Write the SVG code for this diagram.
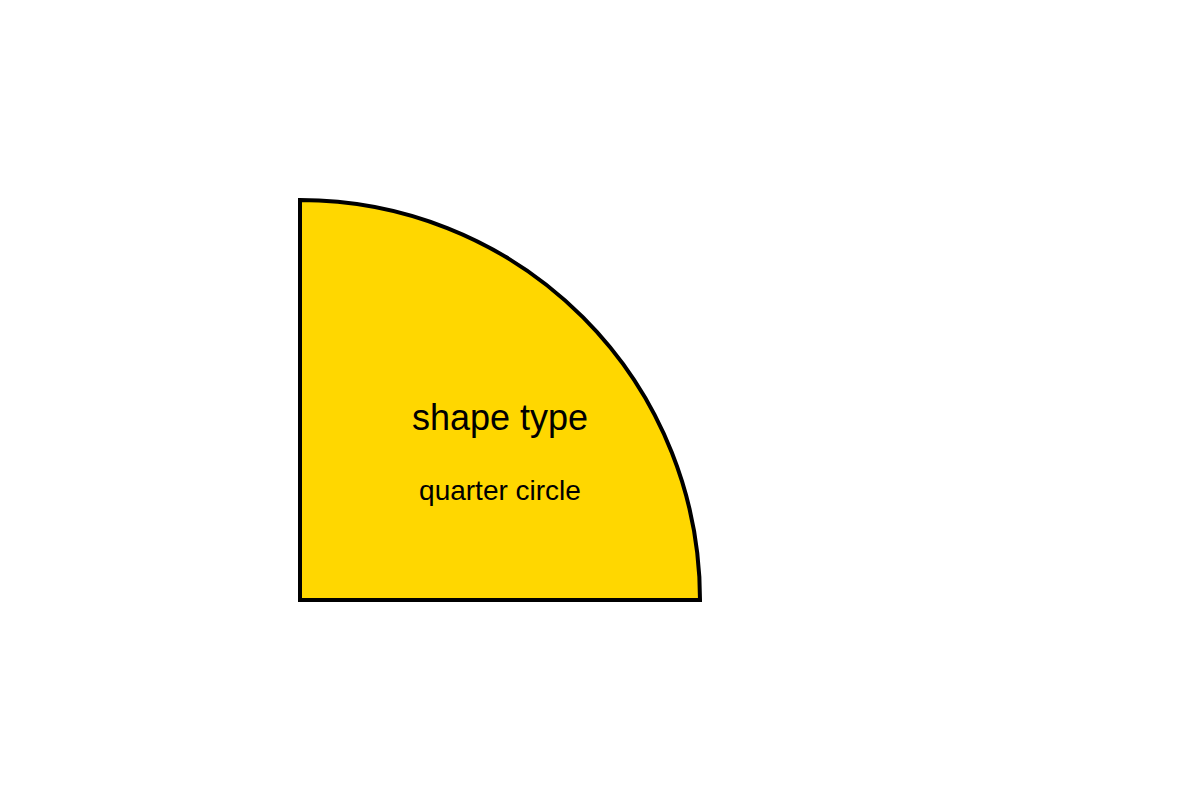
<svg xmlns="http://www.w3.org/2000/svg" width="1200" height="800" viewBox="0 0 1200 800">
<style>
.shape{fill:#FFD700;stroke:#000;stroke-width:4}
.t{font-family:"Liberation Sans",Arial,sans-serif;fill:#000;text-anchor:middle}
</style>
<rect width="1200" height="800" fill="#fff"/>
<g id="quarter-circle">
<path class="shape" d="M300,200 A400,400 0 0 1 700,600 L300,600 Z"/>
<text class="t" x="500" y="430" font-size="36">shape type</text>
<text class="t" x="500" y="500" font-size="28">quarter circle</text>
</g>
<g id="connectors"/>
</svg>
